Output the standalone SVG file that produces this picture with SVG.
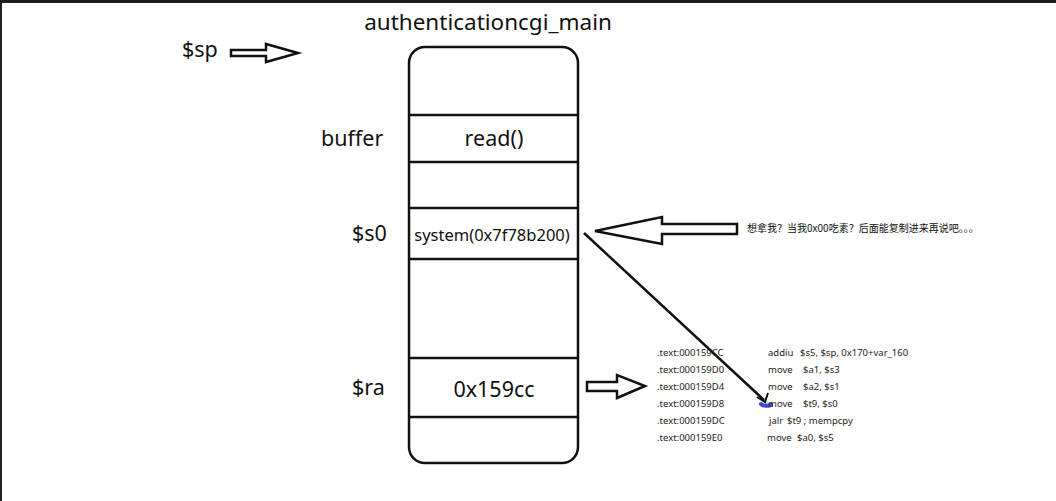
<svg xmlns="http://www.w3.org/2000/svg" width="1056" height="501" viewBox="0 0 1056 501">
<style>
.t{font-family:"Noto Sans","Open Sans",sans-serif;fill:#111}
.lbl{font-size:21.5px}
.code{font-family:"Noto Sans","Open Sans",sans-serif;font-size:9.5px;fill:#222}
.ln{stroke:#111;stroke-width:2.5;fill:none}
.arr{fill:#fff;stroke:#111;stroke-width:2.5;stroke-linejoin:miter}
.cjk{font-family:"Noto Sans CJK SC",sans-serif;font-size:10px;fill:#111}
</style>
<rect x="0" y="0" width="1056" height="501" fill="#fff"/>
<rect x="0" y="0" width="1056" height="3" fill="#1e1e1e"/>
<rect x="0" y="0" width="2" height="501" fill="#1e1e1e"/>

<g id="title"><text class="t" x="488" y="30" text-anchor="middle" font-size="22.5">authenticationcgi_main</text></g>

<g id="labels">
<text class="t lbl" x="182" y="57">$sp</text>
<text class="t lbl" x="321" y="146">buffer</text>
<text class="t lbl" x="352" y="241">$s0</text>
<text class="t lbl" x="352" y="395">$ra</text>
</g>

<g id="stack">
<rect class="ln" x="409" y="47" width="169" height="416" rx="16" ry="16" stroke-width="3"/>
<line class="ln" x1="409" y1="115" x2="578" y2="115"/>
<line class="ln" x1="409" y1="162" x2="578" y2="162"/>
<line class="ln" x1="409" y1="208" x2="578" y2="208"/>
<line class="ln" x1="409" y1="259" x2="578" y2="259"/>
<line class="ln" x1="409" y1="358" x2="578" y2="358"/>
<line class="ln" x1="409" y1="417" x2="578" y2="417"/>
<text class="t lbl" x="494" y="146" text-anchor="middle">read()</text>
<text class="t" x="492" y="241" text-anchor="middle" font-size="16.5">system(0x7f78b200)</text>
<text class="t lbl" x="494" y="397" text-anchor="middle">0x159cc</text>
</g>

<g id="connectors">
<polygon class="arr" points="231,50 266,50 266,44 298,53 266,62 266,56 231,56"/>
<polygon class="arr" points="595,231 662,217 662,224 737,224 737,234 662,234 662,244"/>
<polygon class="arr" points="587,382 617,382 617,375 645,386 617,398 617,391 587,391"/>
<line x1="584" y1="233" x2="764" y2="400" stroke="#111" stroke-width="2.5"/>
<path d="M757,397 L765,402 L768,393" fill="none" stroke="#111" stroke-width="2"/>
<path d="M761,404 Q764,407 771,405" fill="none" stroke="#3b4bd6" stroke-width="4" stroke-linecap="round"/>
</g>

<g id="note"><text class="cjk" x="747" y="232">想拿我？当我0x00吃素？后面能复制进来再说吧。。。</text></g>

<g id="code">
<text class="code" x="657" y="356">.text:000159CC</text><text class="code" x="768" y="356">addiu</text><text class="code" x="800" y="356">$s5, $sp, 0x170+var_160</text>
<text class="code" x="657" y="373">.text:000159D0</text><text class="code" x="768" y="373">move</text><text class="code" x="803" y="373">$a1, $s3</text>
<text class="code" x="657" y="390">.text:000159D4</text><text class="code" x="768" y="390">move</text><text class="code" x="803" y="390">$a2, $s1</text>
<text class="code" x="657" y="407">.text:000159D8</text><text class="code" x="768" y="407">move</text><text class="code" x="803" y="407">$t9, $s0</text>
<text class="code" x="657" y="424">.text:000159DC</text><text class="code" x="769" y="424">jalr</text><text class="code" x="787" y="424">$t9 ; mempcpy</text>
<text class="code" x="657" y="441">.text:000159E0</text><text class="code" x="767" y="441">move</text><text class="code" x="797" y="441">$a0, $s5</text>
</g>
</svg>
